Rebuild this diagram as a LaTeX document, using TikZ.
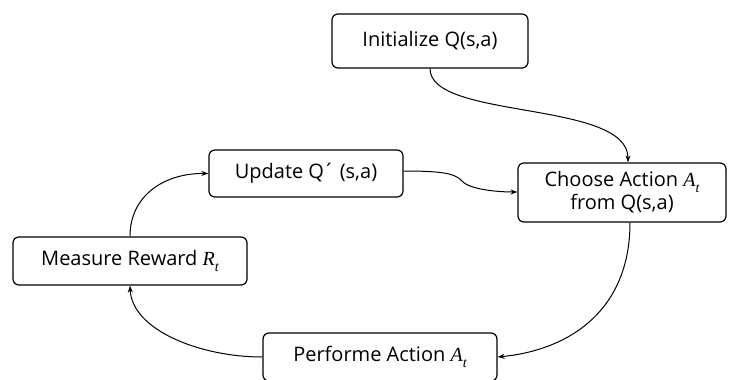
\documentclass[tikz,border=0pt]{standalone}
\usepackage{fontspec}
\setmainfont{Open Sans}
\newfontfamily\varfont{Liberation Serif}
\usetikzlibrary{arrows.meta}
% italic variable with an italic subscript, e.g. \varsub{A}{t}
\newcommand\varsub[2]{{\varfont\itshape #1\raisebox{-0.3em}{\fontsize{14}{14}\selectfont #2}}}
\tikzset{
  stepbox/.style={draw, line width=1.2pt, rounded corners=6pt, align=center,
    inner sep=0pt, font=\fontsize{20}{23}\selectfont},
  flow/.style={line width=1pt, -{Stealth[length=7pt,width=5pt]}}
}
\begin{document}
\begin{tikzpicture}[x=1pt,y=-1pt]
  \useasboundingbox (0,0) rectangle (729,380);
  \clip (0,0) rectangle (729,380);
  \node[stepbox, minimum width=196pt, minimum height=54pt] (init) at (430,41) {Initialize Q(s,a)};
  \node[stepbox, minimum width=194pt, minimum height=47pt] (upd) at (306,173.5) {Update Q\kern-1pt´ (s,a)};
  \node[stepbox, minimum width=208pt, minimum height=59pt] (choose) at (622,192.5) {Choose Action \varsub{A}{t}\\from Q(s,a)};
  \node[stepbox, minimum width=234pt, minimum height=48pt] (meas) at (130,261) {Measure Reward \varsub{R}{t}};
  \node[stepbox, minimum width=234pt, minimum height=48pt] (perf) at (380,357) {Performe Action \varsub{A}{t}};

  \coordinate (bend) at (462,181);
  \draw[flow] (init.south) .. controls (430,120) and (628,100) .. (choose.north -| 628,0);
  \draw[line width=1pt] (upd.east |- 0,171) .. controls (440,171) and (455,173) .. (bend);
  \draw[flow] (bend) .. controls (470,190) and (500,192) .. (choose.west |- 0,192);
  \draw[flow] (choose.south -| 630,0) .. controls (630,310) and (570,350) .. (perf.east);
  \draw[flow] (perf.west) .. controls (200,357) and (132,330) .. (meas.south);
  \draw[flow] (meas.north) .. controls (130,195) and (165,173) .. (upd.west);
\end{tikzpicture}
\end{document}
